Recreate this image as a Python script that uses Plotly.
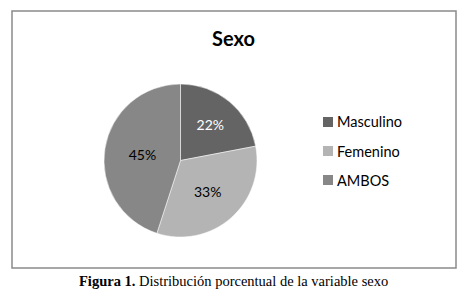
import plotly.graph_objects as go

labels = ["Masculino", "Femenino", "AMBOS"]
values = [22, 33, 45]
colors = ["#646464", "#b4b4b4", "#878787"]
text_colors = ["#ffffff", "#000000", "#000000"]
title = "Sexo"
caption = "<b>Figura 1.</b> Distribución porcentual de la variable sexo"

W, H = 470, 308

fig = go.Figure()
fig.add_trace(go.Pie(
    labels=labels, values=values, sort=False, direction="clockwise", rotation=0,
    marker=dict(colors=colors, line=dict(color="#ffffff", width=0.5)),
    textinfo="percent", textposition="inside", insidetextorientation="horizontal",
    textfont=dict(family="Lato, Open Sans, sans-serif", size=14, color=text_colors),
    domain=dict(x=[103 / W, 258 / W], y=[1 - 237 / H, 1 - 84 / H]),
    showlegend=False, hoverinfo="label+percent",
))

shapes = [dict(type="rect", xref="paper", yref="paper",
               x0=12 / W, x1=456 / W, y0=1 - 268 / H, y1=1 - 11 / H,
               line=dict(color="#8a8a8a", width=1.5), fillcolor="rgba(0,0,0,0)")]
annotations = [
    dict(text="<b>" + title + "</b>", x=233 / W, y=1 - 38 / H, xref="paper", yref="paper",
         showarrow=False, font=dict(family="Lato, Open Sans, sans-serif", size=20, color="#000000"),
         xanchor="center", yanchor="middle"),
    dict(text=caption, x=233 / W, y=1 - 281 / H, xref="paper", yref="paper",
         showarrow=False, font=dict(family="Liberation Serif, serif", size=14.5, color="#000000"),
         xanchor="center", yanchor="middle"),
]
ys = [122, 151, 180]
for lab, col, yy in zip(labels, colors, ys):
    shapes.append(dict(type="rect", xref="paper", yref="paper",
                       x0=323 / W, x1=333 / W, y0=1 - (yy + 5) / H, y1=1 - (yy - 5) / H,
                       line=dict(width=0), fillcolor=col))
    annotations.append(dict(text=lab, x=335 / W, y=1 - yy / H, xref="paper", yref="paper",
                            showarrow=False, xanchor="left", yanchor="middle",
                            font=dict(family="Lato, Open Sans, sans-serif", size=14.5, color="#000000")))

fig.update_layout(width=W, height=H, margin=dict(l=0, r=0, t=0, b=0),
                  paper_bgcolor="#ffffff", plot_bgcolor="#ffffff",
                  shapes=shapes, annotations=annotations)
fig.write_html("out.html", config={"displayModeBar": False},
               post_script="document.body.style.margin='0';document.body.style.overflow='hidden';")
